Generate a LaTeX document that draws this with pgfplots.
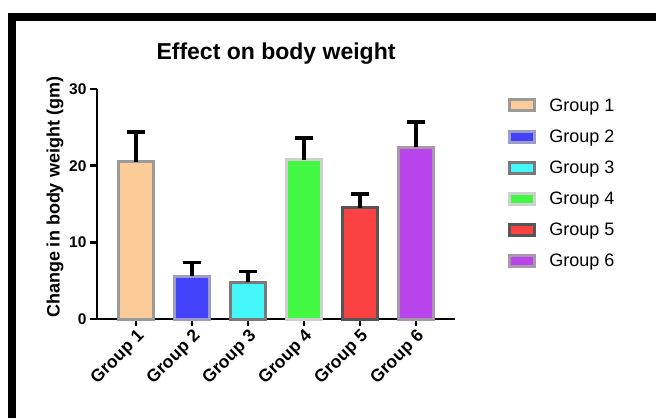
\documentclass[border=0pt]{standalone}
\usepackage{fontspec}
\setmainfont{Liberation Sans}
\usepackage{pgfplots}
\pgfplotsset{compat=1.18}
\definecolor{f1}{HTML}{FBCB98}
\definecolor{e1}{HTML}{9A9A9A}
\definecolor{f2}{HTML}{4242FA}
\definecolor{e2}{HTML}{9C9CC4}
\definecolor{f3}{HTML}{44F8FA}
\definecolor{e3}{HTML}{7A7A7A}
\definecolor{f4}{HTML}{42F842}
\definecolor{e4}{HTML}{CFCFCF}
\definecolor{f5}{HTML}{FA4242}
\definecolor{e5}{HTML}{565656}
\definecolor{f6}{HTML}{BA44EC}
\definecolor{e6}{HTML}{A898AA}
\begin{document}
\begin{tikzpicture}
\useasboundingbox (0pt,0pt) rectangle (656pt,418pt);
\fill[black] (8pt,0pt) rectangle (16pt,405pt);
\fill[black] (8pt,397pt) rectangle (656pt,405pt);
\node[font=\fontsize{23}{27}\selectfont\bfseries] at (276pt,364pt) {Effect on body weight};
\node[rotate=90,font=\fontsize{18}{21}\selectfont\bfseries] at (55pt,220.5pt) {Change in body weight (gm)};
\begin{axis}[
  at={(97pt,99pt)}, anchor=south west,
  scale only axis, width=358pt, height=230pt,
  xmin=-0.7, xmax=5.7, ymin=0, ymax=30,
  ybar, bar width=35pt,
  axis lines=left,
  axis line style={line width=2.5pt,-},
  tick align=outside, major tick length=7pt,
  tick style={line width=2.5pt,black},
  ytick={0,10,20,30},
  xtick={0,1,2,3,4,5},
  xticklabels={Group 1,Group 2,Group 3,Group 4,Group 5,Group 6},
  /pgf/number format/assume math mode=true,
  yticklabel style={font=\fontsize{15.5}{18}\selectfont\bfseries},
  xticklabel style={font=\fontsize{17.5}{20}\selectfont\bfseries, rotate=45, anchor=north east, inner sep=1.5pt},
  clip=false,
  legend style={at={(1.14,0.975)}, anchor=north west, draw=none, fill=none,
    font=\fontsize{18}{21}\selectfont, row sep=13pt, legend cell align=left,
    /tikz/every odd column/.append style={column sep=11pt}},
  mybar/.style={bar shift=0pt, line width=3pt,
    legend image code/.code={\draw[##1, line width=3pt] (0pt,-5pt) rectangle (25pt,6pt);},
    error bars/.cd, y dir=plus, y explicit,
    error bar style={line width=3.5pt,black},
    error mark=|, error mark options={mark size=9pt, line width=3.5pt, black}},
]
\addplot[fill=f1, draw=e1, mybar] coordinates {(0,20.5) +- (0,3.9)};
\addlegendentry{Group 1}
\addplot[fill=f2, draw=e2, mybar] coordinates {(1,5.6) +- (0,1.8)};
\addlegendentry{Group 2}
\addplot[fill=f3, draw=e3, mybar] coordinates {(2,4.8) +- (0,1.4)};
\addlegendentry{Group 3}
\addplot[fill=f4, draw=e4, mybar] coordinates {(3,20.8) +- (0,2.8)};
\addlegendentry{Group 4}
\addplot[fill=f5, draw=e5, mybar] coordinates {(4,14.5) +- (0,1.8)};
\addlegendentry{Group 5}
\addplot[fill=f6, draw=e6, mybar] coordinates {(5,22.4) +- (0,3.3)};
\addlegendentry{Group 6}
\end{axis}
\end{tikzpicture}
\end{document}
